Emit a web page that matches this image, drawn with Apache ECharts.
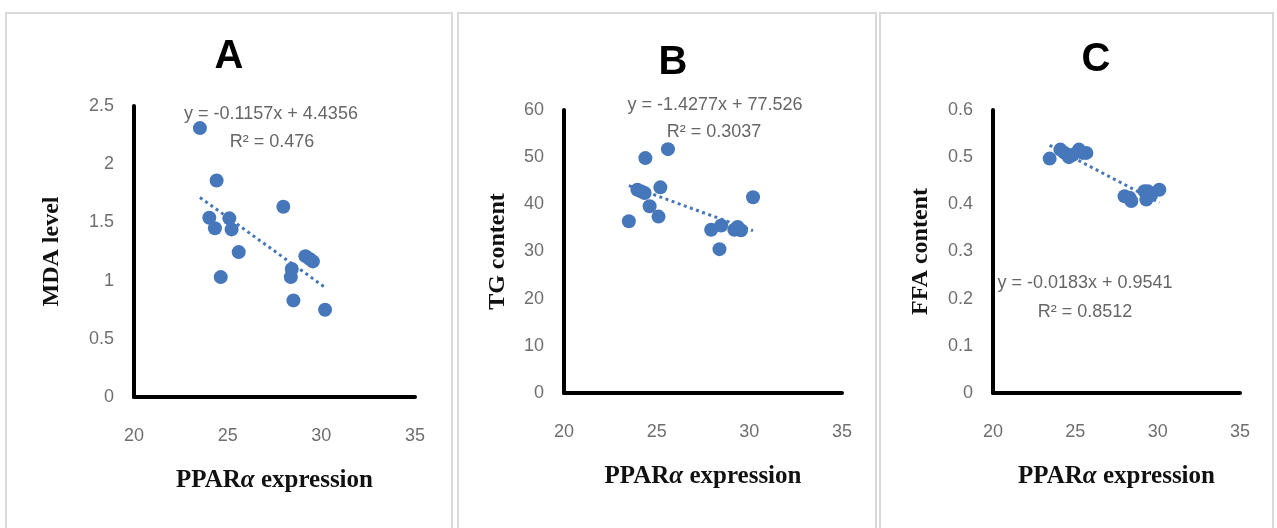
<!DOCTYPE html>
<html>
<head>
<meta charset="utf-8">
<script src="https://cdn.jsdelivr.net/npm/echarts@6/dist/echarts.min.js"></script>
<style>
  html, body { margin: 0; padding: 0; background: #ffffff; }
  #chart { width: 1277px; height: 528px; }
</style>
</head>
<body>
<div id="chart"></div>
<script>
// ---- Data ----
const panelTitles = ['A', 'B', 'C'];
const yAxisNames = ['MDA level', 'TG content', 'FFA content'];
const xAxisName = 'PPARα expression';

const xTicks = [20, 25, 30, 35];
const yTicksA = [0, 0.5, 1, 1.5, 2, 2.5];
const yTicksB = [0, 10, 20, 30, 40, 50, 60];
const yTicksC = [0, 0.1, 0.2, 0.3, 0.4, 0.5, 0.6];

// Panel A: PPARα expression vs MDA level
const xA = [23.52, 24.41, 24.02, 24.32, 25.09, 25.21, 25.59, 24.63, 27.97, 28.42, 28.37, 28.51, 29.15, 29.38, 29.55, 30.2];
const yA = [2.31, 1.86, 1.54, 1.45, 1.535, 1.44, 1.245, 1.03, 1.635, 1.10, 1.03, 0.83, 1.21, 1.185, 1.165, 0.75];

// Panel B: PPARα expression vs TG content
const xB = [25.61, 24.39, 23.96, 24.18, 24.35, 25.2, 24.62, 25.1, 23.5, 27.94, 28.48, 28.39, 29.19, 29.37, 29.55, 30.2];
const yB = [51.7, 49.8, 43.1, 42.7, 42.4, 43.6, 39.6, 37.4, 36.4, 34.6, 35.5, 30.5, 34.6, 35.2, 34.5, 41.5];

// Panel C: PPARα expression vs FFA content
const xC = [23.44, 24.09, 24.35, 24.61, 24.85, 25.22, 25.46, 25.67, 27.99, 28.29, 28.4, 29.2, 29.4, 29.31, 30.1, 29.6];
const yC = [0.497, 0.516, 0.509, 0.5, 0.505, 0.516, 0.509, 0.509, 0.417, 0.414, 0.407, 0.428, 0.428, 0.41, 0.431, 0.42];

// Linear trendlines (slope, intercept, R²) as printed on the figure
const slopes = [-0.1157, -1.4277, -0.0183];
const intercepts = [4.4356, 77.526, 0.9541];
const r2Labels = ['0.476', '0.3037', '0.8512'];
const eqLabels = ['y = -0.1157x + 4.4356', 'y = -1.4277x + 77.526', 'y = -0.0183x + 0.9541'];

// ---- Layout / style ----
const blue = '#4677bb';
const tickColor = '#6f6f6f';
const grids = [
  { left: 134, top: 106, width: 281, height: 291 },
  { left: 564, top: 110, width: 278, height: 283 },
  { left: 993, top: 110, width: 247, height: 283 }
];
const yMax = [2.5, 60, 0.6];
const yInterval = [0.5, 10, 0.1];
const yNameGap = [82, 66, 72];
const xs = [xA, xB, xC];
const ys = [yA, yB, yC];

const chart = echarts.init(document.getElementById('chart'), null, { renderer: 'canvas' });

const xAxes = grids.map((g, i) => ({
  type: 'value', gridIndex: i, min: 20, max: 35, interval: 5,
  axisLine: { show: true, onZero: false, lineStyle: { color: '#000', width: 4 } },
  axisTick: { show: false },
  splitLine: { show: false },
  axisLabel: { color: tickColor, fontSize: 18, margin: 30, fontFamily: "'Liberation Sans',sans-serif" },
  name: '{b|PPAR}{i|α}{b| expression}',
  nameLocation: 'middle', nameGap: 84,
  nameTextStyle: {
    verticalAlign: 'middle',
    rich: {
      b: { fontFamily: "'Liberation Serif',serif", fontWeight: 'bold', fontSize: 25, color: '#111' },
      i: { fontFamily: "'Liberation Serif',serif", fontWeight: 'bold', fontStyle: 'italic', fontSize: 25, color: '#111' }
    }
  }
}));

const yAxes = grids.map((g, i) => ({
  type: 'value', gridIndex: i, min: 0, max: yMax[i], interval: yInterval[i],
  axisLine: { show: true, lineStyle: { color: '#000', width: 4 } },
  axisTick: { show: false },
  splitLine: { show: false },
  axisLabel: { color: tickColor, fontSize: 18, margin: 20, fontFamily: "'Liberation Sans',sans-serif" },
  name: yAxisNames[i],
  nameLocation: 'middle', nameRotate: 90, nameGap: yNameGap[i],
  nameTextStyle: { fontFamily: "'Liberation Serif',serif", fontWeight: 'bold', fontSize: 24, color: '#111', verticalAlign: 'middle' }
}));

const series = [];
for (let i = 0; i < 3; i++) {
  series.push({
    type: 'scatter', xAxisIndex: i, yAxisIndex: i,
    data: xs[i].map((x, k) => [x, ys[i][k]]),
    symbolSize: 14,
    itemStyle: { color: blue, opacity: 1 },
    z: 2
  });
  const x0 = Math.min(...xs[i]), x1 = Math.max(...xs[i]);
  series.push({
    type: 'line', xAxisIndex: i, yAxisIndex: i,
    data: [[x0, slopes[i] * x0 + intercepts[i]], [x1, slopes[i] * x1 + intercepts[i]]],
    showSymbol: false, symbol: 'none',
    lineStyle: { color: blue, width: 3, type: [3, 3.5] },
    z: 3, silent: true
  });
}

const titlePos = [[229, 57], [673, 63], [1096, 60]];
const eqPos = [[271, 114], [715, 105], [1085, 283]];
const r2Pos = [[272, 142], [714, 132], [1085, 312]];
const panelRects = [[6, 13, 446, 530], [458, 13, 418, 530], [880, 13, 393, 530]];

const graphics = [];
panelRects.forEach(r => graphics.push({
  type: 'rect', shape: { x: r[0], y: r[1], width: r[2], height: r[3] },
  style: { fill: 'none', stroke: '#d9d9d9', lineWidth: 2 }, silent: true, z: -1
}));
for (let i = 0; i < 3; i++) {
  graphics.push({
    type: 'text', x: titlePos[i][0], y: titlePos[i][1],
    style: { text: panelTitles[i], fill: '#000', font: "bold 40px 'Liberation Sans',sans-serif", textAlign: 'center', textVerticalAlign: 'middle' }
  });
  graphics.push({
    type: 'text', x: eqPos[i][0], y: eqPos[i][1],
    style: { text: eqLabels[i], fill: '#666', font: "18px 'Liberation Sans',sans-serif", textAlign: 'center', textVerticalAlign: 'middle' }
  });
  graphics.push({
    type: 'text', x: r2Pos[i][0], y: r2Pos[i][1],
    style: { text: 'R² = ' + r2Labels[i], fill: '#666', font: "18px 'Liberation Sans',sans-serif", textAlign: 'center', textVerticalAlign: 'middle' }
  });
}

chart.setOption({
  backgroundColor: '#ffffff',
  animation: false,
  grid: grids.map(g => Object.assign({ containLabel: false }, g)),
  xAxis: xAxes,
  yAxis: yAxes,
  series: series,
  graphic: graphics
});
</script>
</body>
</html>
